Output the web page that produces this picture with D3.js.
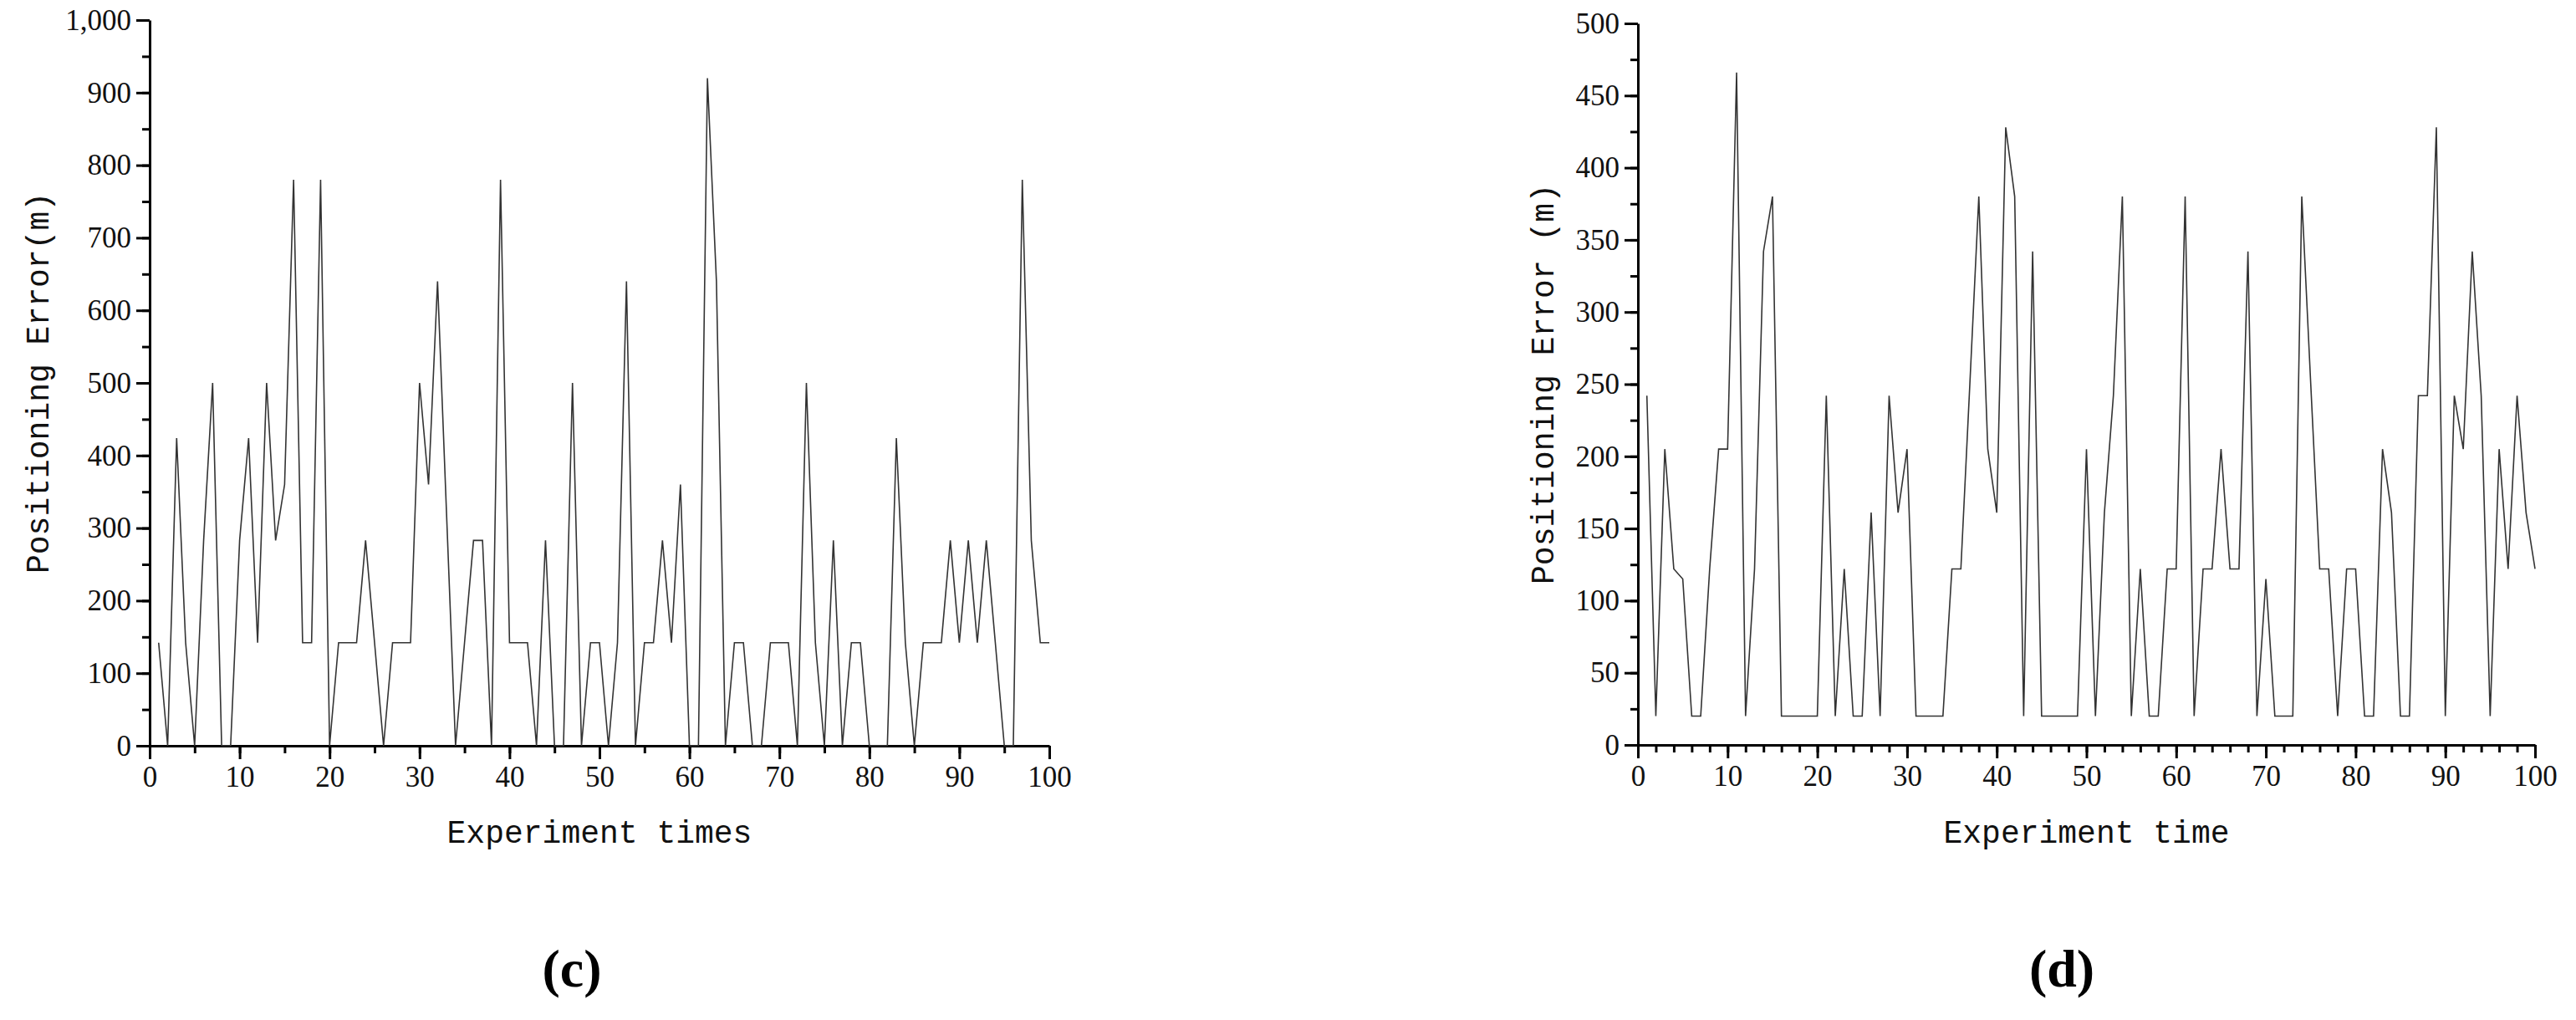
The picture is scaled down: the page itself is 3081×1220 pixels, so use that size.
<!DOCTYPE html>
<html lang="en">
<head>
<meta charset="UTF-8">
<title>Positioning Error</title>
<script src="https://d3js.org/d3.v7.min.js"></script>
<style>
  body { margin: 0; background: #fff; }
  .tick text { font-family: "Liberation Serif", serif; font-size: 35px; fill: #111; }
  .axis path, .axis line { stroke: #000; stroke-width: 3px; }
  .series { fill: none; stroke: #333; stroke-width: 1.6px; }
  .title { font-family: "Liberation Mono", monospace; font-size: 38px; fill: #111; }
  .panel { font-family: "Liberation Serif", serif; font-size: 64px; font-weight: bold; fill: #000; }
</style>
</head>
<body>
<svg id="chart" width="3081" height="1220"></svg>
<script>
  // experiment index 1..100
  const runs = d3.range(1, 101);

  // (c) positioning error, m
  const errorC = [
    142, 0, 424, 142, 0, 283, 500, 0, 0, 283,
    424, 142, 500, 283, 360, 780, 142, 142, 780, 0,
    142, 142, 142, 283, 142, 0, 142, 142, 142, 500,
    360, 640, 320, 0, 142, 283, 283, 0, 780, 142,
    142, 142, 0, 283, 0, 0, 500, 0, 142, 142,
    0, 142, 640, 0, 142, 142, 283, 142, 360, 0,
    0, 920, 640, 0, 142, 142, 0, 0, 142, 142,
    142, 0, 500, 142, 0, 283, 0, 142, 142, 0,
    0, 0, 424, 142, 0, 142, 142, 142, 283, 142,
    283, 142, 283, 142, 0, 0, 780, 283, 142, 142
  ];

  // (d) positioning error, m
  const errorD = [
    242, 20, 205, 122, 115, 20, 20, 122, 205, 205,
    466, 20, 122, 342, 380, 20, 20, 20, 20, 20,
    242, 20, 122, 20, 20, 161, 20, 242, 161, 205,
    20, 20, 20, 20, 122, 122, 250, 380, 205, 161,
    428, 380, 20, 342, 20, 20, 20, 20, 20, 205,
    20, 161, 242, 380, 20, 122, 20, 20, 122, 122,
    380, 20, 122, 122, 205, 122, 122, 342, 20, 115,
    20, 20, 20, 380, 250, 122, 122, 20, 122, 122,
    20, 20, 205, 161, 20, 20, 242, 242, 428, 20,
    242, 205, 342, 242, 20, 205, 122, 242, 161, 122
  ];

  const xTicks = d3.range(0, 101, 10);
  const yTicksC = d3.range(0, 1001, 100);
  const yTicksD = d3.range(0, 501, 50);

  const svg = d3.select("#chart");

  function drawPanel(opt) {
    const x = d3.scaleLinear().domain([0, 100]).range([opt.left, opt.right]);
    const y = d3.scaleLinear().domain([0, opt.yMax]).range([opt.bottom, opt.top]);
    const g = svg.append("g");

    // minor ticks
    g.append("g").attr("class", "axis")
      .attr("transform", `translate(0,${opt.bottom})`)
      .call(d3.axisBottom(x).tickValues(d3.range(0, 101, opt.xMinor)).tickSize(9).tickFormat(""))
      .select(".domain").remove();
    g.append("g").attr("class", "axis")
      .attr("transform", `translate(${opt.left},0)`)
      .call(d3.axisLeft(y).tickValues(d3.range(0, opt.yMax + 1, opt.yMinor)).tickSize(9).tickFormat(""))
      .select(".domain").remove();

    // major ticks
    g.append("g").attr("class", "axis")
      .attr("transform", `translate(0,${opt.bottom})`)
      .call(d3.axisBottom(x).tickValues(xTicks).tickSize(16).tickSizeOuter(0).tickPadding(8));
    g.append("g").attr("class", "axis")
      .attr("transform", `translate(${opt.left},0)`)
      .call(d3.axisLeft(y).tickValues(opt.yTicks).tickSize(16).tickSizeOuter(0).tickPadding(6));

    // series
    g.append("path")
      .datum(runs.map((r, i) => [r, opt.values[i]]))
      .attr("class", "series")
      .attr("d", d3.line().x(d => x(d[0])).y(d => y(d[1])));

    // titles
    g.append("text").attr("class", "title")
      .attr("x", (opt.left + opt.right) / 2).attr("y", 1008)
      .attr("text-anchor", "middle").text(opt.xTitle);
    g.append("text").attr("class", "title")
      .attr("transform", `translate(${opt.yTitleX},${(opt.top + opt.bottom) / 2}) rotate(-90)`)
      .attr("text-anchor", "middle").text(opt.yTitle);
    g.append("text").attr("class", "panel")
      .attr("x", opt.panelX).attr("y", 1180)
      .attr("text-anchor", "middle").text(opt.panel);
  }

  drawPanel({
    left: 179, right: 1255, top: 24, bottom: 892,
    yMax: 1000, yTicks: yTicksC, yMinor: 50, xMinor: 5,
    values: errorC, xTitle: "Experiment times", yTitle: "Positioning Error(m)",
    yTitleX: 58, panel: "(c)", panelX: 684
  });

  drawPanel({
    left: 1959, right: 3032, top: 28, bottom: 891,
    yMax: 500, yTicks: yTicksD, yMinor: 25, xMinor: 2,
    values: errorD, xTitle: "Experiment time", yTitle: "Positioning Error (m)",
    yTitleX: 1858, panel: "(d)", panelX: 2466
  });
</script>
</body>
</html>
